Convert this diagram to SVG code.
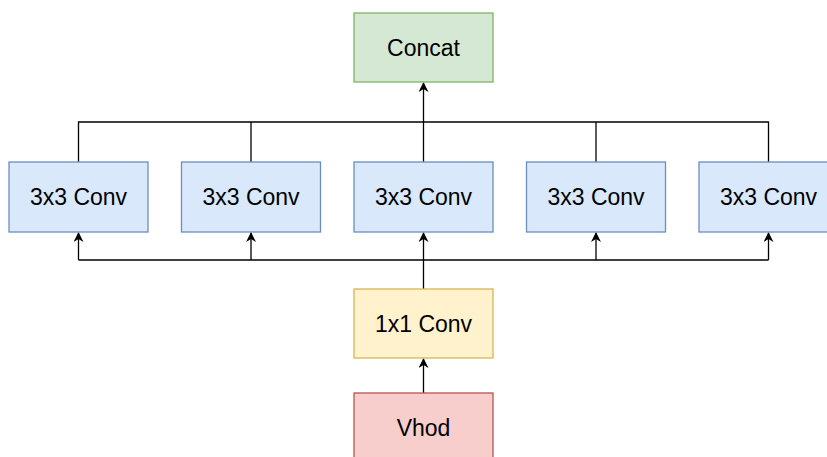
<svg xmlns="http://www.w3.org/2000/svg" width="827" height="457" viewBox="0 0 827 457">
  <defs>
    <marker id="arrow" viewBox="0 0 10 10" refX="9" refY="5" markerWidth="10" markerHeight="10" markerUnits="userSpaceOnUse" orient="auto">
      <path d="M0,0 L10,5 L0,10 L3,5 Z" fill="#000"/>
    </marker>
  </defs>
  <style>
    .box { stroke-width: 1.3; }
    .conv3 { fill: #dae8fc; stroke: #6c8ebf; }
    .concat { fill: #d5e8d4; stroke: #82b366; }
    .conv1 { fill: #fff2cc; stroke: #d6b656; }
    .input { fill: #f8cecc; stroke: #b85450; }
    .label { font-family: "Liberation Sans", Arial, sans-serif; font-size: 23px; fill: #000; text-anchor: middle; }
    .wire { fill: none; stroke: #000; stroke-width: 1.3; }
  </style>
  <rect width="827" height="457" fill="#fff"/>

  <g id="connectors">
    <!-- fan-in to Concat -->
    <path class="wire" d="M78.5,162 V122 H768.5 V162"/>
    <path class="wire" d="M251,162 V122"/>
    <path class="wire" d="M596,162 V122"/>
    <path class="wire" d="M423.5,162 V83" marker-end="url(#arrow)"/>
    <!-- fan-out from 1x1 Conv -->
    <path class="wire" d="M78.5,260 H768.5"/>
    <path class="wire" d="M78.5,260 V233" marker-end="url(#arrow)"/>
    <path class="wire" d="M251,260 V233" marker-end="url(#arrow)"/>
    <path class="wire" d="M596,260 V233" marker-end="url(#arrow)"/>
    <path class="wire" d="M768.5,260 V233" marker-end="url(#arrow)"/>
    <path class="wire" d="M423.5,289 V233" marker-end="url(#arrow)"/>
    <!-- input to 1x1 Conv -->
    <path class="wire" d="M423.5,393 V359" marker-end="url(#arrow)"/>
  </g>

  <g id="concat">
    <rect class="box concat" x="354" y="13" width="139" height="69"/>
    <text class="label" x="423.5" y="55.5">Concat</text>
  </g>

  <g id="conv3-1">
    <rect class="box conv3" x="9" y="162" width="139" height="70"/>
    <text class="label" x="78.5" y="205">3x3 Conv</text>
  </g>
  <g id="conv3-2">
    <rect class="box conv3" x="181.5" y="162" width="139" height="70"/>
    <text class="label" x="251" y="205">3x3 Conv</text>
  </g>
  <g id="conv3-3">
    <rect class="box conv3" x="354" y="162" width="139" height="70"/>
    <text class="label" x="423.5" y="205">3x3 Conv</text>
  </g>
  <g id="conv3-4">
    <rect class="box conv3" x="526.5" y="162" width="139" height="70"/>
    <text class="label" x="596" y="205">3x3 Conv</text>
  </g>
  <g id="conv3-5">
    <rect class="box conv3" x="699" y="162" width="139" height="70"/>
    <text class="label" x="768.5" y="205">3x3 Conv</text>
  </g>

  <g id="conv1">
    <rect class="box conv1" x="354" y="289" width="139" height="69"/>
    <text class="label" x="423.5" y="331.5">1x1 Conv</text>
  </g>

  <g id="input">
    <rect class="box input" x="354" y="393" width="139" height="70"/>
    <text class="label" x="423.5" y="436">Vhod</text>
  </g>
</svg>
